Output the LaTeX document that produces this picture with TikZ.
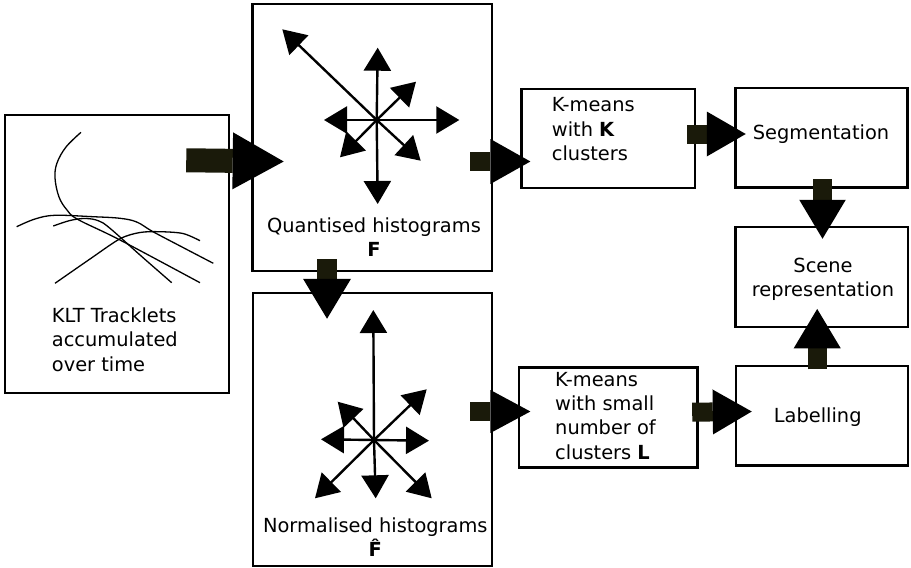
\documentclass[tikz,border=0pt]{standalone}
\usepackage{fontspec}
\setmainfont{DejaVu Sans}
\usetikzlibrary{arrows.meta,calc}
\definecolor{shaftcol}{RGB}{26,26,10}

\tikzset{
  box/.style={draw, line width=2.5pt, rectangle, inner sep=0pt},
  lbl/.style={inner sep=0pt, font=\fontsize{19.4}{24.4}\selectfont},
  vec/.style={line width=2.4pt, -{Triangle[length=23pt,width=27pt]}},
  track/.style={line width=1.3pt},
}

% thick block arrow: start, tip, shaft width, head length, head half-width
\newcommand\fatarrow[5]{%
  \coordinate (fa-s) at #1;
  \coordinate (fa-t) at #2;
  \coordinate (fa-b) at ($(fa-t)!#4!(fa-s)$);
  \draw[shaftcol, line width=#3] (fa-s) -- (fa-b);
  \fill[black] (fa-t) -- ($(fa-b)!#5!90:(fa-t)$) -- ($(fa-b)!#5!-90:(fa-t)$) -- cycle;
}

\begin{document}
\begin{tikzpicture}[x=1pt, y=-1pt]
\useasboundingbox (0,0) rectangle (911,568);

% boxes
\node[box, minimum width=224pt, minimum height=278pt] (trk) at (117,254) {};
\node[box, minimum width=239.5pt, minimum height=267pt] (quant) at (372.2,137.5) {};
\node[box, minimum width=239pt, minimum height=273pt] (norm) at (372.5,429.5) {};
\node[box, minimum width=173.3pt, minimum height=99pt] (kmK) at (608.3,138.5) {};
\node[box, minimum width=172pt, minimum height=99.7pt] (seg) at (821.7,137.8) {};
\node[box, minimum width=172.3pt, minimum height=100pt] (scene) at (821.8,277) {};
\node[box, minimum width=172pt, minimum height=99.7pt] (lab) at (822,415.8) {};
\node[box, minimum width=178.7pt, minimum height=100.4pt] (kmL) at (608.3,417.5) {};

% tracklets
\draw[track] plot[smooth, tension=0.6] coordinates
  {(81,132.3) (66,147) (57,163) (55,178) (59,197) (67,210) (78,219.5) (120,240) (200,282.7)};
\draw[track] plot[smooth, tension=0.6] coordinates
  {(53.3,226) (70,220.5) (85,218.5) (98.3,220.7) (110,228.3) (140,255) (171.7,282.7)};
\draw[track] plot[smooth, tension=0.6] coordinates
  {(16.7,226.7) (35,219) (55,215.3) (93,216.7) (120,218.3) (136.7,222) (153,231.7) (183,247.5) (213.3,263.3)};
\draw[track] plot[smooth, tension=0.5] coordinates
  {(55,283.3) (90,259) (120,238.8) (140,232.5) (160,231.7) (183,233.5) (200,240.7)};

% quantised histogram vectors
\coordinate (qc) at (376.7,120);
\draw[vec] (qc) -- ++(1,-72.3);
\draw[vec] (qc) -- ++(1,84);
\draw[vec] (qc) -- ++(82.6,0);
\draw[vec] (qc) -- ++(-52.7,0);
\draw[vec] (qc) -- ++(-94.4,-90.7);
\draw[vec] (qc) -- ++(39.3,-38.3);
\draw[vec] (qc) -- ++(-36.7,37.3);
\draw[vec] (qc) -- ++(44,40.7);

% normalised histogram vectors
\coordinate (nc) at (374,440);
\draw[vec] (nc) -- ++(-0.7,-130);
\draw[vec] (nc) -- ++(52.7,-50.7);
\draw[vec] (nc) -- ++(55,0.7);
\draw[vec] (nc) -- ++(57.7,58.3);
\draw[vec] (nc) -- ++(1.7,58.3);
\draw[vec] (nc) -- ++(-59,58.3);
\draw[vec] (nc) -- ++(-53,-0.7);
\draw[vec] (nc) -- ++(-36.3,-38.3);

% labels
\node[lbl, align=left, anchor=west] (trkT) at (51.7,339.4) {KLT Tracklets\\accumulated\\over time};
\node[lbl, align=center] (quantT) at (374,237.2) {Quantised histograms\\\bfseries F};
\node[lbl, align=center] (normT) at (375.3,537.2) {Normalised histograms\\\bfseries\^{F}};
\node[lbl, align=left, anchor=west] (kmKT) at (551.7,129.3) {K-means\\with \textbf{K}\\clusters};
\node[lbl, anchor=base west] (segT) at (752.7,139.3) {Segmentation};
\node[lbl, align=center] (sceneT) at (823,279.5) {Scene\\representation};
\node[lbl, anchor=base] (labT) at (817.7,422.3) {Labelling};
\node[lbl, align=left, anchor=west] (kmLT) at (555,415.7) {K-means\\with small\\number of\\clusters \textbf{L}};

% block arrows between stages
\fatarrow{($(trk.north east)+(-44,46.5)$)}{($(quant.west)+(32.5,24)$)}{24pt}{51pt}{28.5pt}
\fatarrow{($(quant.east)+(-23,24)$)}{($(kmK.west)+(10,23)$)}{19pt}{40pt}{22.5pt}
\fatarrow{($(kmK.east)+(-9,-4.5)$)}{($(seg.west)+(11.3,-3.8)$)}{19pt}{39pt}{22.5pt}
\fatarrow{($(seg.south)+(0.8,-9.7)$)}{($(scene.north)+(0.7,13)$)}{19pt}{39pt}{23.3pt}
\fatarrow{($(lab.north)+(-4.8,4.7)$)}{($(scene.south)+(-4.6,-19.3)$)}{19pt}{39.3pt}{23.5pt}
\fatarrow{($(quant.south)+(-45.2,-13)$)}{($(norm.north)+(-45.5,27)$)}{20pt}{40pt}{24pt}
\fatarrow{($(norm.east)+(-23,-18)$)}{($(kmL.west)+(12.7,-6)$)}{19pt}{40pt}{21.5pt}
\fatarrow{($(kmL.east)+(-6.7,-5.3)$)}{($(lab.west)+(17,-4.3)$)}{19pt}{39pt}{22.5pt}
\end{tikzpicture}
\end{document}
